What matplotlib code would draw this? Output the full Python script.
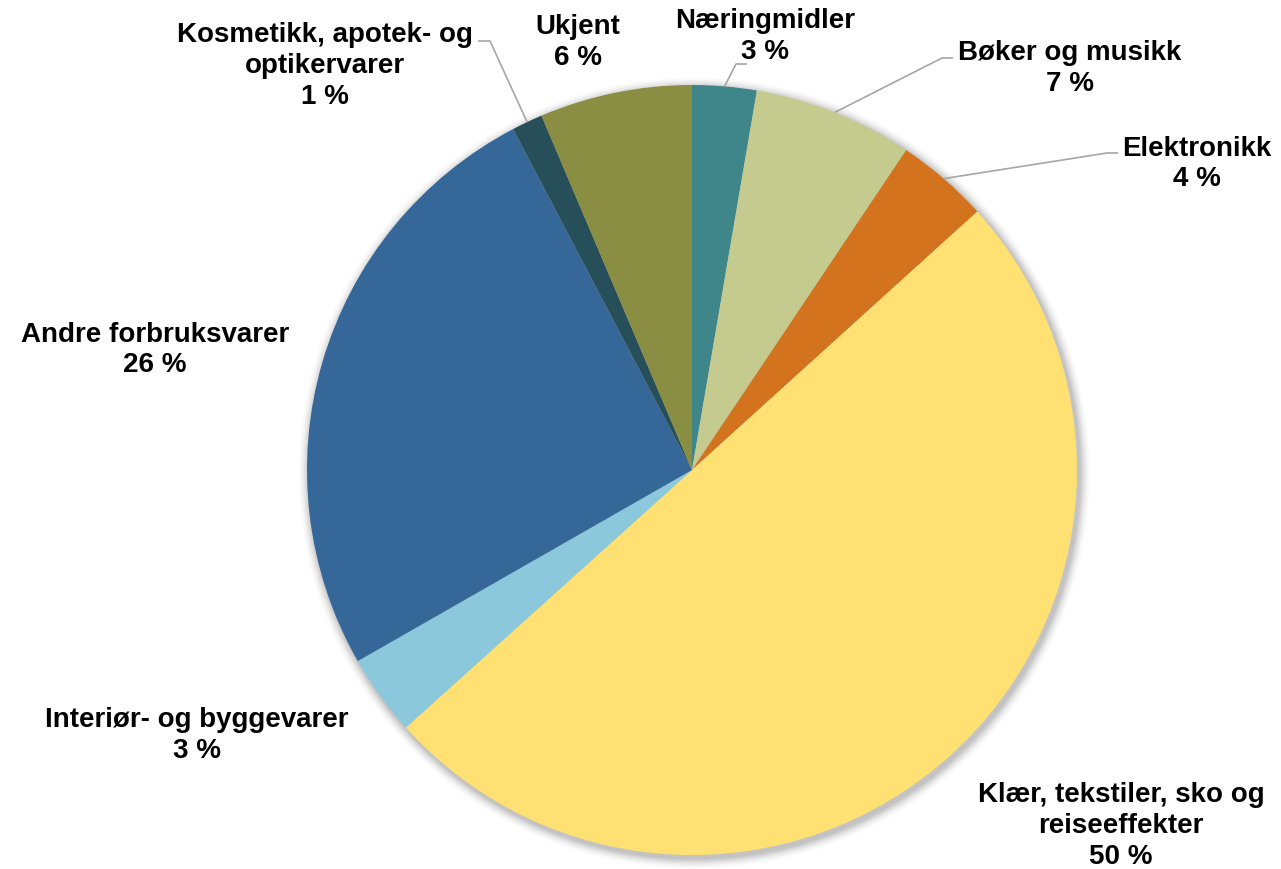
import numpy as np
import matplotlib
matplotlib.use("Agg")
import matplotlib.pyplot as plt
from matplotlib.patches import Circle

categories = ["Næringmidler", "Bøker og musikk", "Elektronikk",
              "Klær, tekstiler, sko og\nreiseeffekter", "Interiør- og byggevarer",
              "Andre forbruksvarer", "Kosmetikk, apotek- og\noptikervarer", "Ukjent"]
values = [2.7, 6.7, 3.9, 50.1, 3.4, 25.6, 1.3, 6.4]
colors = ["#3F868B", "#C5CB8F", "#D4731D", "#FEE073", "#8BC8DB",
          "#356798", "#264F5A", "#898E42"]

W, H = 1281, 870
CX, CY, R = 692, 471, 385

def px(x, y):
    return (x - CX) / R, (CY - y) / R

# label centres (pixels)
label_pos = [(765, 36), (1070, 68), (1197, 164), (1121, 826), (197, 736),
             (155, 350), (325, 66), (578, 42)]
# leader elbow / end points (pixels) : (elbow, end)
leaders = {0: ((736, 65), (747, 65)),
           1: ((942, 59), (953, 59)),
           2: ((1107, 154), (1118, 154)),
           6: ((490, 42), (478, 42))}

plt.rcParams['font.family'] = ['Liberation Sans', 'DejaVu Sans']
fig = plt.figure(figsize=(W / 100, H / 100), dpi=100)
ax = fig.add_axes([0, 0, 1, 1])

wedges, _ = ax.pie(values, colors=colors, startangle=90, counterclock=False,
                   radius=1.0, wedgeprops=dict(linewidth=0, antialiased=True))
for w in wedges:
    w.set_zorder(2)

ax.set_xlim(-CX / R, (W - CX) / R)
ax.set_ylim(-(H - CY) / R, CY / R)
ax.set_aspect('equal')
ax.axis('off')

# soft shadow
for i, a in enumerate(np.linspace(0.05, 0.012, 8)):
    ax.add_patch(Circle((0.006, -0.008), 1.0 + 0.0035 * (i + 1), color='black',
                        alpha=a, lw=0, zorder=0))

total = sum(values)
cum = 0
for i, (cat, v) in enumerate(zip(categories, values)):
    mid = (cum + v / 2) / total * 360
    cum += v
    lx, ly = px(*label_pos[i])
    ax.text(lx, ly, f"{cat}\n{round(v):d} %", ha='center', va='center',
            fontsize=20, fontweight='bold', color='black', linespacing=1.25,
            zorder=5)
    if i in leaders:
        th = np.deg2rad(90 - mid)
        sx, sy = np.cos(th) * 1.0, np.sin(th) * 1.0
        e1 = px(*leaders[i][0])
        e2 = px(*leaders[i][1])
        ax.plot([sx, e1[0], e2[0]], [sy, e1[1], e2[1]], color='#A6A6A6',
                lw=1.2, zorder=3, solid_capstyle='butt')

fig.savefig("out.png", dpi=100, facecolor='white')
